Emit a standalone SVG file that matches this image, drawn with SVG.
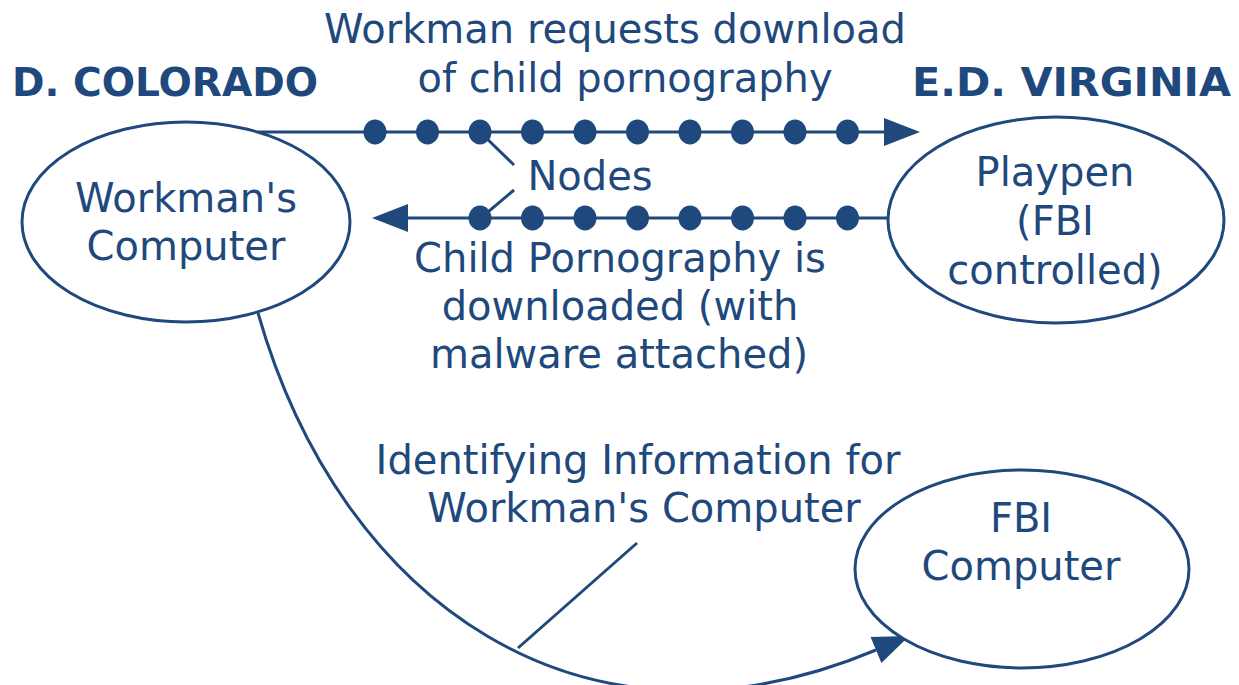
<svg xmlns="http://www.w3.org/2000/svg" width="1239" height="685" viewBox="0 0 1239 685">
<style>
.t{font-family:"DejaVu Sans",Verdana,sans-serif;font-size:40px;fill:#1F497D;text-anchor:middle}
.h{font-family:"DejaVu Sans",Verdana,sans-serif;font-size:39px;font-weight:bold;fill:#1F497D}
.e{fill:#fff;stroke:#1F497D;stroke-width:3}
.c{fill:none;stroke:#1F497D;stroke-width:3}
.d{fill:#1F497D}
</style>
<defs>
<marker id="ah" markerUnits="userSpaceOnUse" markerWidth="36" markerHeight="28" refX="0" refY="14" orient="auto" overflow="visible">
<path d="M0,0 L36,14 L0,28 z" fill="#1F497D"/>
</marker>
</defs>
<rect width="1239" height="685" fill="#fff"/>
<text class="h" x="12" y="96" textLength="306" lengthAdjust="spacingAndGlyphs">D. COLORADO</text>
<text class="h" x="912" y="96" textLength="319" lengthAdjust="spacingAndGlyphs">E.D. VIRGINIA</text>
<g id="connectors">
<line class="c" x1="258" y1="132" x2="884" y2="132" marker-end="url(#ah)"/>
<line class="c" x1="889" y1="218" x2="408" y2="218" marker-end="url(#ah)"/>
<path class="c" d="M258,313 C340,601 581,774 876,650" marker-end="url(#ah)"/>
<line class="c" x1="481" y1="133" x2="514" y2="165"/>
<line class="c" x1="514" y1="190" x2="482" y2="217"/>
<line class="c" x1="637" y1="543" x2="518" y2="648"/>
<g class="d">
<ellipse cx="375" cy="132" rx="11.5" ry="12.5"/>
<ellipse cx="427.5" cy="132" rx="11.5" ry="12.5"/>
<ellipse cx="480" cy="132" rx="11.5" ry="12.5"/>
<ellipse cx="532.5" cy="132" rx="11.5" ry="12.5"/>
<ellipse cx="585" cy="132" rx="11.5" ry="12.5"/>
<ellipse cx="637.5" cy="132" rx="11.5" ry="12.5"/>
<ellipse cx="690" cy="132" rx="11.5" ry="12.5"/>
<ellipse cx="742.5" cy="132" rx="11.5" ry="12.5"/>
<ellipse cx="795" cy="132" rx="11.5" ry="12.5"/>
<ellipse cx="847.5" cy="132" rx="11.5" ry="12.5"/>
<ellipse cx="480" cy="218" rx="11.5" ry="12.5"/>
<ellipse cx="532.5" cy="218" rx="11.5" ry="12.5"/>
<ellipse cx="585" cy="218" rx="11.5" ry="12.5"/>
<ellipse cx="637.5" cy="218" rx="11.5" ry="12.5"/>
<ellipse cx="690" cy="218" rx="11.5" ry="12.5"/>
<ellipse cx="742.5" cy="218" rx="11.5" ry="12.5"/>
<ellipse cx="795" cy="218" rx="11.5" ry="12.5"/>
<ellipse cx="847.5" cy="218" rx="11.5" ry="12.5"/>
</g>
</g>
<g id="label-request">
<text class="t" x="615" y="43">Workman requests download</text>
<text class="t" x="625" y="92">of child pornography</text>
</g>
<g id="label-nodes">
<text class="t" x="590" y="190">Nodes</text>
</g>
<g id="label-download">
<text class="t" x="620" y="272">Child Pornography is</text>
<text class="t" x="620" y="320">downloaded (with</text>
<text class="t" x="619" y="368">malware attached)</text>
</g>
<g id="label-identifying">
<text class="t" x="638" y="474">Identifying Information for</text>
<text class="t" x="644" y="522">Workman's Computer</text>
</g>
<g id="node-workman">
<ellipse class="e" cx="186" cy="222" rx="164" ry="100"/>
<text class="t" x="186" y="212">Workman's</text>
<text class="t" x="186" y="260">Computer</text>
</g>
<g id="node-playpen">
<ellipse class="e" cx="1056" cy="220" rx="168" ry="103"/>
<text class="t" x="1055" y="186">Playpen</text>
<text class="t" x="1055" y="235">(FBI</text>
<text class="t" x="1055" y="284">controlled)</text>
</g>
<g id="node-fbi">
<ellipse class="e" cx="1022" cy="569" rx="167" ry="99"/>
<text class="t" x="1021" y="532">FBI</text>
<text class="t" x="1021" y="580">Computer</text>
</g>
</svg>
